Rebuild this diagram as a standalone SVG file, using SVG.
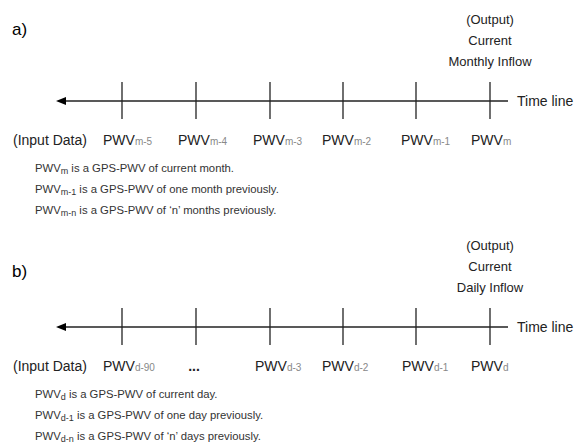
<svg xmlns="http://www.w3.org/2000/svg" width="576" height="446" viewBox="0 0 576 446">
<defs>
<style>
.lbl{font-family:"Liberation Sans",Arial,sans-serif;font-size:14px;fill:#222}
.pnl{font-family:"Liberation Sans",Arial,sans-serif;font-size:17px;fill:#000}
.out{font-family:"Liberation Sans",Arial,sans-serif;font-size:13px;fill:#222;text-anchor:middle}
.sub{font-size:10px;fill:#888}
.desc{font-family:"Liberation Sans",Arial,sans-serif;font-size:11.3px;fill:#333}
.dsub{font-size:9px}
.axis{stroke:#222;stroke-width:1.5;fill:none}
.tick{stroke:#222;stroke-width:1.3;fill:none}
.head{fill:#000}
</style>
</defs>
<rect width="576" height="446" fill="#fff"/>

<g id="panel-a">
<text class="pnl" x="12" y="35">a)</text>
<g id="a-output">
<text class="out" x="490" y="24">(Output)</text>
<text class="out" x="490" y="45">Current</text>
<text class="out" x="490" y="66">Monthly Inflow</text>
</g>
<g id="a-connectors">
<line class="axis" x1="508" y1="101" x2="60" y2="101"/>
<path class="head" d="M56,101 L66,97 L66,105 Z"/>
<line class="tick" x1="122" y1="82" x2="122" y2="119"/>
<line class="tick" x1="196" y1="82" x2="196" y2="119"/>
<line class="tick" x1="270" y1="82" x2="270" y2="119"/>
<line class="tick" x1="343" y1="82" x2="343" y2="119"/>
<line class="tick" x1="416" y1="82" x2="416" y2="119"/>
<line class="tick" x1="490" y1="82" x2="490" y2="119"/>
</g>
<text class="lbl" x="517" y="106">Time line</text>
<text class="lbl" x="13" y="145">(Input Data)</text>
<text class="lbl" x="103" y="145">PWV<tspan class="sub">m-5</tspan></text>
<text class="lbl" x="178" y="145">PWV<tspan class="sub">m-4</tspan></text>
<text class="lbl" x="253" y="145">PWV<tspan class="sub">m-3</tspan></text>
<text class="lbl" x="322" y="145">PWV<tspan class="sub">m-2</tspan></text>
<text class="lbl" x="401" y="145">PWV<tspan class="sub">m-1</tspan></text>
<text class="lbl" x="471" y="145">PWV<tspan class="sub">m</tspan></text>
<text class="desc" x="35" y="172">PWV<tspan class="dsub" dy="2">m</tspan><tspan dy="-2"> is a GPS-PWV of current month.</tspan></text>
<text class="desc" x="35" y="193">PWV<tspan class="dsub" dy="2">m-1</tspan><tspan dy="-2"> is a GPS-PWV of one month previously.</tspan></text>
<text class="desc" x="35" y="214">PWV<tspan class="dsub" dy="2">m-n</tspan><tspan dy="-2"> is a GPS-PWV of ‘n’ months previously.</tspan></text>
</g>

<g id="panel-b">
<text class="pnl" x="12" y="277">b)</text>
<g id="b-output">
<text class="out" x="490" y="250">(Output)</text>
<text class="out" x="490" y="271">Current</text>
<text class="out" x="490" y="292">Daily Inflow</text>
</g>
<g id="b-connectors">
<line class="axis" x1="508" y1="327" x2="60" y2="327"/>
<path class="head" d="M56,327 L66,323 L66,331 Z"/>
<line class="tick" x1="122" y1="308" x2="122" y2="345"/>
<line class="tick" x1="196" y1="308" x2="196" y2="345"/>
<line class="tick" x1="270" y1="308" x2="270" y2="345"/>
<line class="tick" x1="343" y1="308" x2="343" y2="345"/>
<line class="tick" x1="416" y1="308" x2="416" y2="345"/>
<line class="tick" x1="490" y1="308" x2="490" y2="345"/>
</g>
<text class="lbl" x="517" y="332">Time line</text>
<text class="lbl" x="13" y="371">(Input Data)</text>
<text class="lbl" x="103" y="371">PWV<tspan class="sub">d-90</tspan></text>
<text class="lbl" x="194" y="371" text-anchor="middle" font-weight="bold">...</text>
<text class="lbl" x="255" y="371">PWV<tspan class="sub">d-3</tspan></text>
<text class="lbl" x="322" y="371">PWV<tspan class="sub">d-2</tspan></text>
<text class="lbl" x="402" y="371">PWV<tspan class="sub">d-1</tspan></text>
<text class="lbl" x="471" y="371">PWV<tspan class="sub">d</tspan></text>
<text class="desc" x="35" y="398">PWV<tspan class="dsub" dy="2">d</tspan><tspan dy="-2"> is a GPS-PWV of current day.</tspan></text>
<text class="desc" x="35" y="419">PWV<tspan class="dsub" dy="2">d-1</tspan><tspan dy="-2"> is a GPS-PWV of one day previously.</tspan></text>
<text class="desc" x="35" y="440">PWV<tspan class="dsub" dy="2">d-n</tspan><tspan dy="-2"> is a GPS-PWV of ‘n’ days previously.</tspan></text>
</g>
</svg>
